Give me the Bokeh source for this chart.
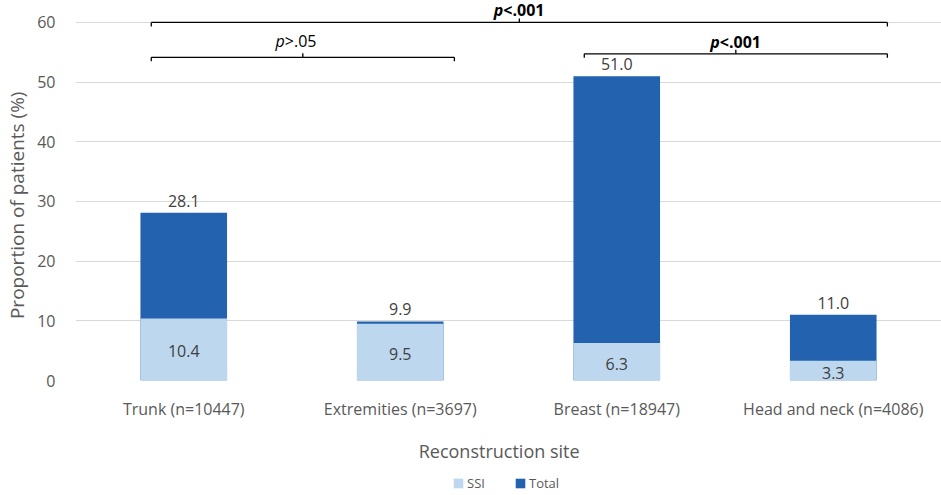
import numpy as np
from bokeh.plotting import figure
from bokeh.layouts import column
from bokeh.models import (Range1d, FixedTicker, Legend, LegendItem,
                          ColumnDataSource)
from bokeh.core.properties import value
from bokeh.embed import file_html
from bokeh.resources import INLINE

# ---- data ----
categories = ["Trunk (n=10447)", "Extremities (n=3697)",
              "Breast (n=18947)", "Head and neck (n=4086)"]
ssi = [10.4, 9.5, 6.3, 3.3]
total = [28.1, 9.9, 51.0, 11.0]
y_ticks = [0, 10, 20, 30, 40, 50, 60]

# significance brackets
bracket_left = [0, 0, 2]
bracket_right = [3, 1, 3]
bracket_level = [60.0, 54.15, 54.75]
bracket_text = [".001", ".05", ".001"]
bracket_sign = ["<", ">", "<"]
bracket_bold = [True, False, True]

# ---- styling ----
FONT = "Open Sans"
DARK = "#2262AE"
LIGHT = "#BDD7EE"
GRID = "#D9D9D9"
TICK_COLOR = "#595959"
LABEL_COLOR = "#404040"

xs = np.arange(len(categories)) + 0.5
Y_END = 63.68

p = figure(width=941, height=465, output_backend="svg", toolbar_location=None,
           x_range=Range1d(0, len(categories)), y_range=Range1d(0, Y_END),
           min_border_left=75, min_border_right=0, min_border_top=0,
           min_border_bottom=84, tools="")
p.outline_line_color = None
p.background_fill_color = "white"
p.border_fill_color = "white"

# grid
p.xgrid.visible = False
p.ygrid.ticker = FixedTicker(ticks=y_ticks)
p.ygrid.grid_line_color = GRID
p.ygrid.grid_line_width = 1

# axes
p.yaxis.ticker = FixedTicker(ticks=y_ticks)
p.yaxis.axis_line_color = None
p.yaxis.major_tick_line_color = None
p.yaxis.minor_tick_line_color = None
p.yaxis.major_tick_out = 0
p.yaxis.major_tick_in = 0
p.yaxis.major_label_standoff = 20
p.yaxis.major_label_text_font = FONT
p.yaxis.major_label_text_font_size = "16px"
p.yaxis.major_label_text_color = TICK_COLOR
# trailing no-break spaces nudge the centred title slightly downwards
p.yaxis.axis_label = "Proportion of patients (%)" + "\u00a0" * 6
p.yaxis.axis_label_standoff = 4
p.yaxis.axis_label_text_font = FONT
p.yaxis.axis_label_text_font_size = "19px"
p.yaxis.axis_label_text_font_style = "normal"
p.yaxis.axis_label_text_color = TICK_COLOR

p.xaxis.ticker = FixedTicker(ticks=list(xs))
p.xaxis.major_label_overrides = {float(x): c for x, c in zip(xs, categories)}
p.xaxis.axis_line_color = None
p.xaxis.major_tick_line_color = None
p.xaxis.minor_tick_line_color = None
p.xaxis.major_tick_out = 0
p.xaxis.major_tick_in = 0
p.xaxis.major_label_standoff = 17
p.xaxis.major_label_text_font = FONT
p.xaxis.major_label_text_font_size = "16px"
p.xaxis.major_label_text_color = TICK_COLOR
# trailing no-break spaces nudge the centred title slightly to the left
p.xaxis.axis_label = "Reconstruction site" + "\u00a0" * 4
p.xaxis.axis_label_standoff = 16
p.xaxis.axis_label_text_font = FONT
p.xaxis.axis_label_text_font_size = "18px"
p.xaxis.axis_label_text_font_style = "normal"
p.xaxis.axis_label_text_color = TICK_COLOR

# bars
src = ColumnDataSource(dict(x=xs, ssi=ssi, total=total,
                            ssi_mid=[v / 2 for v in ssi],
                            ssi_lab=[f"{v:.1f}" for v in ssi],
                            tot_lab=[f"{v:.1f}" for v in total]))
r_tot = p.vbar(x="x", top="total", bottom=0, width=0.4, source=src,
               fill_color=DARK, line_color=None)
r_ssi = p.vbar(x="x", top="ssi", bottom=0, width=0.4, source=src,
               fill_color=LIGHT, line_color=None)

p.text(x="x", y="total", text="tot_lab", source=src, y_offset=-12,
       text_align="center", text_baseline="alphabetic",
       text_font=value(FONT), text_font_size="16px", text_color=LABEL_COLOR)
p.text(x="x", y="ssi_mid", text="ssi_lab", source=src, y_offset=2,
       text_align="center", text_baseline="middle",
       text_font=value(FONT), text_font_size="16px", text_color=LABEL_COLOR)

# brackets
LEFT_OFF = -0.15
RIGHT_OFF = 0.25
TICK_LEN = 0.67
label_gap = [12, 16, 12]
for i in range(len(bracket_level)):
    x0 = xs[bracket_left[i]] + LEFT_OFF
    x1 = xs[bracket_right[i]] + RIGHT_OFF
    y = bracket_level[i]
    xm = (x0 + x1) / 2
    p.segment(x0=[x0, x0, x1, xm], y0=[y, y, y, y],
              x1=[x1, x0, x1, xm], y1=[y, y - TICK_LEN, y - TICK_LEN, y + TICK_LEN],
              line_color="black", line_width=1.3)
    style = "bold" if bracket_bold[i] else "normal"
    pstyle = "bold italic" if bracket_bold[i] else "italic"
    split = -16 if bracket_bold[i] else -18
    p.text(x=[xm], y=[y], text=["p"], x_offset=split, y_offset=-label_gap[i],
           text_align="right", text_baseline="alphabetic",
           text_font=value(FONT), text_font_size="16px",
           text_font_style=pstyle, text_color="black")
    p.text(x=[xm], y=[y], text=[bracket_sign[i] + bracket_text[i]],
           x_offset=split, y_offset=-label_gap[i],
           text_align="left", text_baseline="alphabetic",
           text_font=value(FONT), text_font_size="16px",
           text_font_style=style, text_color="black")

# legend strip below the chart (frame aligned with the main chart's frame)
p2 = figure(width=941, height=30, output_backend="svg", toolbar_location=None,
            x_range=Range1d(0, 1), y_range=Range1d(0, 1), tools="",
            x_axis_location=None, y_axis_location=None,
            min_border_left=0, min_border_right=0, min_border_top=0,
            min_border_bottom=0)
p2.outline_line_color = None
p2.xgrid.visible = False
p2.ygrid.visible = False
# legend swatches (kept outside the visible range)
l_ssi = p2.vbar(x=[5], top=[1], width=0.1, fill_color=LIGHT, line_color=None)
l_tot = p2.vbar(x=[5], top=[1], width=0.1, fill_color=DARK, line_color=None)
legend = Legend(items=[LegendItem(label="SSI", renderers=[l_ssi]),
                       LegendItem(label="Total", renderers=[l_tot])],
                orientation="horizontal", location=(377, 3),
                border_line_color=None, background_fill_alpha=0,
                margin=0, padding=0, spacing=27, label_standoff=3,
                glyph_width=12, glyph_height=12, label_height=14,
                label_text_font=FONT, label_text_font_size="13px",
                label_text_color=TICK_COLOR)
p2.add_layout(legend)

open("out.html", "w").write(file_html(column(p, p2, spacing=0), INLINE))
